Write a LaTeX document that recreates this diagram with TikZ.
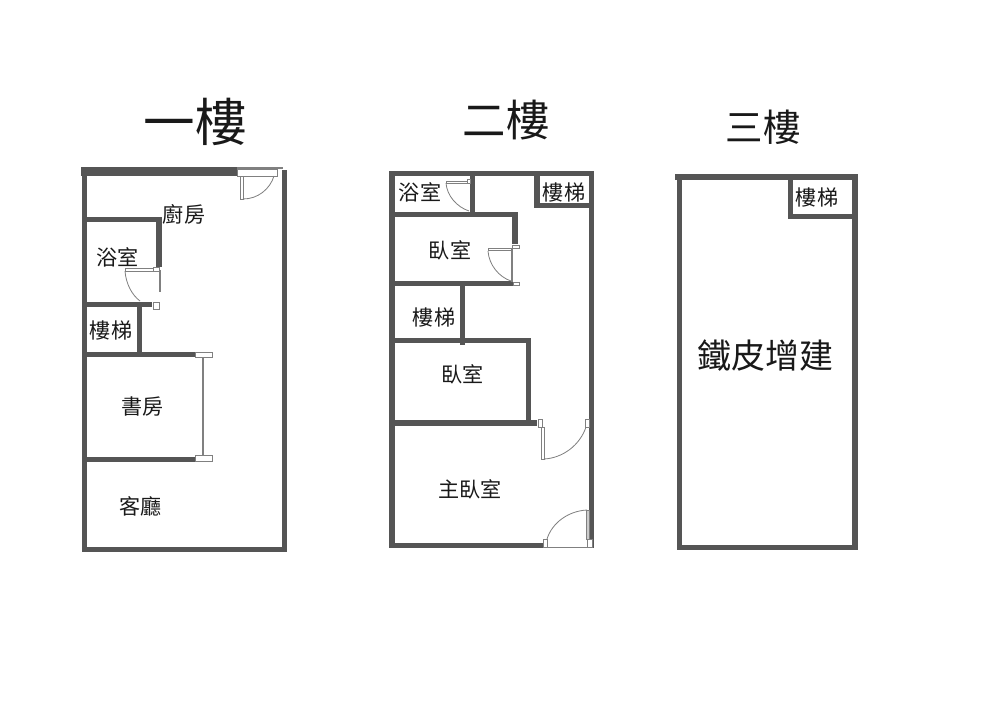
\documentclass[tikz,border=0pt]{standalone}
\usepackage{fontspec}
\setmainfont{Noto Sans CJK TC}
\definecolor{wallgray}{HTML}{555555}
\definecolor{doorgray}{HTML}{808080}
\newcommand{\cjksize}[1]{\fontsize{#1}{#1}\selectfont}
\tikzset{wall/.style={line width=4.7pt,draw=wallgray},
         thinwall/.style={line width=2pt,draw=doorgray},
         doorcap/.style={draw=doorgray,fill=white,line width=.8pt},
         swing/.style={draw=doorgray,line width=.7pt},
         room/.style={inner sep=0pt,text=black!90,font=\cjksize{18pt}},
        }

\begin{document}
\begin{tikzpicture}[x=0.03cm,y=-0.03cm]
        \useasboundingbox (0,0) rectangle (1000,721);
        % titles
        \node[room,font=\cjksize{44pt}](title1)at(195,122){一樓};
        \node[room,font=\cjksize{37pt}](title2)at(506,120){二樓};
        \node[room,font=\cjksize{32pt}](title3)at(763,127){三樓};
        % first floor
        \draw[wall,line width=7.5pt](81,171.5)--(237,171.5);
        \draw[doorgray,line width=2pt](237,168)--(283,168);
        \draw[wall](284.5,170)--(284.5,549.5)--(82,549.5);
        \draw[wall](84.5,172)--(84.5,552);
        \draw[wall](87,219.5)--(158.8,219.5)--(158.8,267);
        \draw[wall](87,304.5)--(152,304.5);
        \draw[wall](139.5,304.5)--(139.5,352);
        \draw[wall](87,354.5)--(195,354.5);
        \draw[wall](87,459.5)--(195,459.5);
        \draw[doorcap](237,169.5)rectangle(277,176);
        \draw[doorcap](240,176)rectangle(243,199);
        \draw[swing](243,199)..controls(258,199)and(270,189)..(274,176);
        \draw[doorcap](153,267)rectangle(159,271);
        \draw[doorcap](125,268.5)rectangle(153,271);
        \draw[thinwall](160,270)--(160,292);
        \draw[swing](125,271)..controls(126,284)and(132,295)..(140,301);
        \draw[doorcap](153,302)rectangle(159,309);
        \draw[doorcap](195,352)rectangle(212,357);
        \draw[doorcap](195,455.5)rectangle(212,461);
        \draw[thinwall](203,357)--(203,455.5);
        \node[room](kitchen)at(184,214){廚房};
        \node[room](bath1)at(117.5,257){浴室};
        \node[room](stair1)at(111,330){樓梯};
        \node[room](study)at(142.5,407){書房};
        \node[room](living)at(140.5,506){客廳};
        % second floor
        \draw[wall](389,173.5)--(594,173.5);
        \draw[wall](392,171)--(392,548);
        \draw[wall](591.5,173)--(591.5,548);
        \draw[wall](389,545.5)--(543,545.5);
        \draw[wall](472.5,176)--(472.5,214.5);
        \draw[wall](395,214.5)--(515,214.5)--(515,244);
        \draw[wall](395,283.5)--(513,283.5);
        \draw[wall](462.5,286)--(462.5,345);
        \draw[wall](395,340.5)--(528.5,340.5)--(528.5,422);
        \draw[wall](395,423)--(537,423);
        \draw[wall](536.8,176)--(536.8,205.5)--(590,205.5);
        \draw[doorcap](446,181)rectangle(468,183);
        \draw[doorcap](467,179)rectangle(470,183);
        \draw[swing](446,183)..controls(447,196)and(457,207)..(469,211);
        \draw[doorcap](512,245)rectangle(519,248);
        \draw[doorcap](488,248)rectangle(511,250.5);
        \draw[thinwall](512,248)--(512,282);
        \draw[swing](488,251)..controls(489,265)and(499,277)..(511,281);
        \draw[doorcap](513,282)rectangle(519,285);
        \draw[doorcap](538,419)rectangle(542,427);
        \draw[doorcap](541,427)rectangle(544,459);
        \draw[swing](544,459)..controls(563,458)and(580,445)..(586,427);
        \draw[doorcap](585,419)rectangle(589,427);
        \draw[doorcap](543,539)rectangle(547,547);
        \draw[swing](547,539)..controls(552,523)and(568,511)..(587,510);
        \draw[doorcap,draw=doorgray,fill=black!20](586,510)rectangle(589,539);
        \draw[swing](547,547)--(589,547);
        \draw[doorcap](587,539)rectangle(592.5,547.5);
        \node[room](bath2)at(420,192){浴室};
        \node[room](stair2)at(564,192){樓梯};
        \node[room](bed1)at(450,250){臥室};
        \node[room](stair3)at(434,317){樓梯};
        \node[room](bed2)at(462.5,374){臥室};
        \node[room](master)at(470,489){主臥室};
        % third floor
        \draw[wall](675,177)--(858,177);
        \draw[wall](679.5,177)--(679.5,550);
        \draw[wall](855,177)--(855,550);
        \draw[wall](677,547.5)--(858,547.5);
        \draw[wall](790.5,177)--(790.5,216.5)--(855,216.5);
        \node[room](stair4)at(817,197){樓梯};
        \node[room,font=\cjksize{29pt}](addition)at(765.5,356){鐵皮增建};
    \end{tikzpicture}
\end{document}
